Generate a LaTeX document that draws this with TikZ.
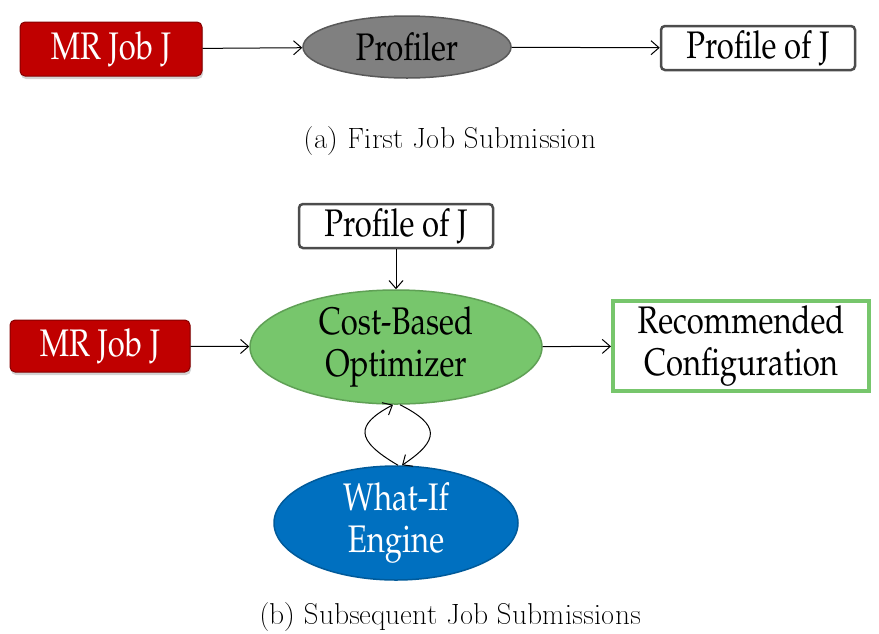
\documentclass[tikz,border=0pt]{standalone}
\usepackage[T1]{fontenc}
\usepackage{graphicx}
\usetikzlibrary{shapes.geometric,arrows.meta,shadows}
\definecolor{mrred}{HTML}{C00000}
\definecolor{profgray}{HTML}{808080}
\definecolor{cbogreen}{HTML}{77C66C}
\definecolor{cboedge}{HTML}{5FA055}
\definecolor{wiblue}{HTML}{0070C0}
\definecolor{wiedge}{HTML}{005A9A}
\newcommand{\pal}{\fontfamily{ppl}\selectfont}
\newcommand{\tx}[1]{\scalebox{0.97}[1.2]{#1}}
\tikzset{
  boxfont/.style={font=\pal\fontsize{32}{36}\selectfont},
  redbox/.style={boxfont, rectangle, rounded corners=5pt, fill=mrred, draw=mrred!70!black, line width=1pt, text=white, inner sep=0pt, drop shadow={shadow xshift=1pt, shadow yshift=-3pt, opacity=0.35}},
  whitebox/.style={boxfont, rectangle, rounded corners=4pt, fill=white, draw=black!70, line width=2.5pt, inner sep=0pt},
  greenbox/.style={boxfont, rectangle, fill=white, draw=cbogreen, line width=4pt, inner sep=0pt, align=center},
  ell/.style={boxfont, ellipse, inner sep=0pt, line width=1.5pt, align=center},
  conn/.style={-{Straight Barb[length=8pt,width=14pt]}, line width=1pt},
  captext/.style={font=\fontsize{28.5}{32}\selectfont}
}
\begin{document}
\begin{tikzpicture}[x=1pt,y=-1pt]
\useasboundingbox (0,0) rectangle (879,633);
% (a)
\node[redbox, minimum width=182pt, minimum height=54pt] (mr1) at (111,49) {\tx{MR Job J}};
\node[ell, fill=profgray, draw=black!65, minimum width=208pt, minimum height=62pt] (prof) at (407,47) {\tx{Profiler}};
\node[whitebox, minimum width=194pt, minimum height=44pt] (pj1) at (758,48) {\tx{Profile of J}};
\draw[conn] (mr1) -- (prof);
\draw[conn] (prof) -- (pj1);
\node[captext] (capa) at (450,141) {(a) First Job Submission};
% (b)
\node[whitebox, minimum width=194pt, minimum height=44pt] (pj2) at (396,226) {\tx{Profile of J}};
\node[ell, fill=cbogreen, draw=cboedge, minimum width=292pt, minimum height=102pt] (cbo) at (396,347) {\tx{Cost-Based}\\[6pt]\tx{Optimizer}};
\node[redbox, minimum width=180pt, minimum height=52pt] (mr2) at (100,346) {\tx{MR Job J}};
\node[greenbox, minimum width=256pt, minimum height=90pt] (rec) at (741,346) {\tx{Recommended}\\[6pt]\tx{Configuration}};
\node[ell, fill=wiblue, draw=wiedge, text=white, minimum width=244pt, minimum height=94pt] (wi) at (396,523) {\tx{What-If}\\[6pt]\tx{Engine}};
\draw[conn] (pj2) -- (cbo);
\draw[conn] (mr2) -- (cbo);
\draw[conn] (cbo) -- (rec);
\draw[conn] ([xshift=2pt]wi.north) .. controls (355,440) and (355,425) .. ([xshift=-3pt]cbo.south);
\draw[conn] ([xshift=4pt]cbo.south) .. controls (440,425) and (440,440) .. ([xshift=6pt]wi.north);
\node[captext] (capb) at (450,617) {(b) Subsequent Job Submissions};
\end{tikzpicture}
\end{document}
